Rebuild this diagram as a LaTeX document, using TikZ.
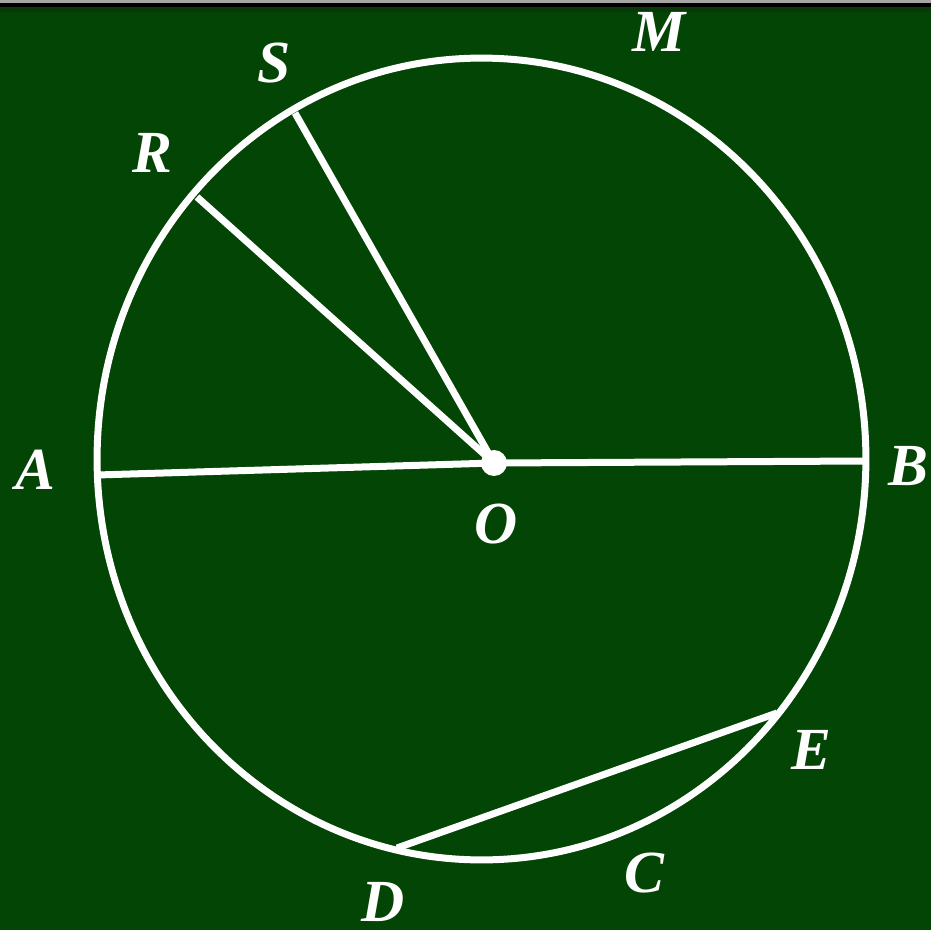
\documentclass[tikz,border=0pt]{standalone}
\usepackage{fontspec}
\setmainfont{Liberation Serif}
\begin{document}
\begin{tikzpicture}[x=0.02cm,y=-0.02cm,
  wire/.style={white,line width=0.14cm},
  lbl/.style={white,inner sep=0pt,font=\fontsize{34}{40}\selectfont\bfseries\itshape}]
\definecolor{board}{RGB}{3,69,4}
\definecolor{edgegreen}{RGB}{10,56,10}
\useasboundingbox (0,0) rectangle (931,930);
\fill[board] (0,0) rectangle (931,930);
\fill[edgegreen] (0,7) rectangle (931,12);
\fill[black] (0,3) rectangle (931,7);
\fill[gray!70] (0,0) rectangle (931,3);
% points
\coordinate (O) at (494,463);
\coordinate (A) at (97,475);
\coordinate (B) at (866,461);
\coordinate (R) at (197,197);
\coordinate (S) at (295,113);
\coordinate (D) at (397,848);
\coordinate (E) at (777,713);
% circle
\draw[wire] (481.5,459) ellipse [x radius=7.69cm, y radius=8.02cm];
% segments
\draw[wire] (A) -- (O);
\draw[wire] (O) -- (B);
\draw[wire] (O) -- (R);
\draw[wire] (O) -- (S);
\draw[wire] (D) -- (E);
\fill[white] (O) circle [radius=0.26cm];
% labels
\node[lbl] (lM) at (659,32) {M};
\node[lbl] (lS) at (274,63) {S};
\node[lbl] (lR) at (152,153) {R};
\node[lbl] (lA) at (35,470) {A};
\node[lbl] (lB) at (908,466) {B};
\node[lbl] (lO) at (496,524) {O};
\node[lbl] (lE) at (811,750) {E};
\node[lbl] (lC) at (644,873) {C};
\node[lbl] (lD) at (383,902) {D};
\end{tikzpicture}
\end{document}
